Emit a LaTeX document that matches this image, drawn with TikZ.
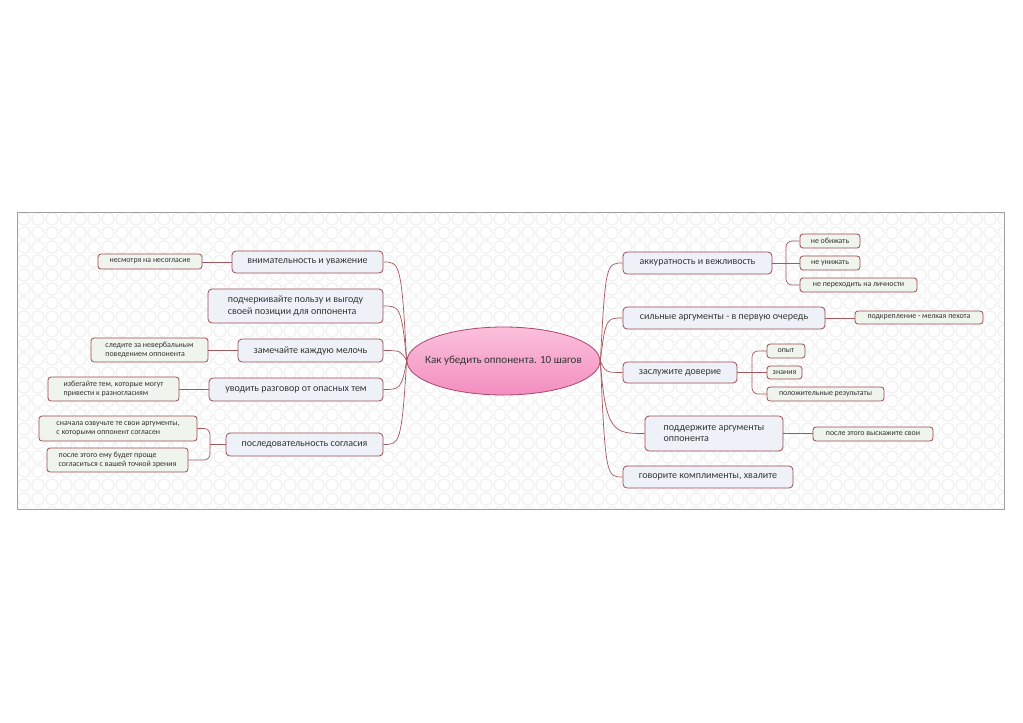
\documentclass[tikz,border=0pt]{standalone}
\usepackage{fontspec}
\setmainfont{Carlito}
\usetikzlibrary{shapes.geometric,calc}
\definecolor{bord}{HTML}{9C4A52}
\definecolor{conncol}{HTML}{A3585E}
\definecolor{mainfill}{HTML}{EEF2F8}
\definecolor{subfill}{HTML}{EFF4EC}
\definecolor{txt}{HTML}{333333}
\definecolor{pinktop}{HTML}{FBC0DC}
\definecolor{pinkbot}{HTML}{F38EBF}
\definecolor{pinkbord}{HTML}{A8486F}
\definecolor{patt}{HTML}{F2F2F2}
\definecolor{framecol}{HTML}{A0A0A0}
\tikzset{
  topic/.style={draw=bord, line width=0.8pt, fill=mainfill, rounded corners=4pt,
    inner sep=0pt, text=txt, align=left, font=\fontsize{10}{11.5}\selectfont},
  subtopic/.style={draw=bord, line width=0.8pt, fill=subfill, rounded corners=3pt,
    inner sep=0pt, text=txt, align=left, font=\fontsize{7.9}{9.3}\selectfont},
  conn/.style={draw=conncol, line width=0.7pt},
  forkline/.style={draw=conncol, line width=0.7pt, rounded corners=6pt},
  sz/.style 2 args={minimum width=#1pt, minimum height=#2pt},
}
\begin{document}
\begin{tikzpicture}[x=1pt,y=-1pt]
\useasboundingbox (0,0) rectangle (1023,723);
\fill[white] (0,0) rectangle (1023,723);
% background pattern
\begin{scope}
\clip (17,212) rectangle (1004,509);
\foreach \i in {0,...,71}{
  \foreach \j in {0,...,21}{
    \draw[patt, line width=1.3pt] (24+\i*14, 219+\j*14) circle (6);
  }
}
\end{scope}
\draw[framecol, line width=0.9pt] (17,212) rectangle (1004,509);

% central topic
\node[ellipse, draw=pinkbord, line width=0.8pt, top color=pinktop, bottom color=pinkbot,
  minimum width=193pt, minimum height=68pt, inner sep=0pt] (E) at (503.5,361) {};
\node[text=txt, inner sep=0pt, font=\fontsize{11}{13}\selectfont] (Et) at (E.center) {Как убедить оппонента. 10 шагов};

% left main topics
\node[topic, sz={151}{22}] (L1) at (307.5,262) {внимательность и уважение};
\node[topic, sz={175}{34}] (L2) at (295.5,306) {подчеркивайте пользу и выгоду\\своей позиции для оппонента};
\node[topic, sz={145}{23}] (L3) at (310.5,350.5) {замечайте каждую мелочь};
\node[topic, sz={174}{23}] (L4) at (296,389.5) {уводить разговор от опасных тем};
\node[topic, sz={157}{23}] (L5) at (304.5,444.5) {последовательность согласия};

% left subtopics
\node[subtopic, sz={104}{15}] (L1a) at (150,261.5) {несмотря на несогласие};
\node[subtopic, sz={117}{24}] (L3a) at (149.5,350) {следите за невербальным\\поведением оппонента};
\node[subtopic, sz={131}{24}] (L4a) at (113.5,389) {избегайте тем, которые могут\\привести к разногласиям};
\node[subtopic, sz={158}{25}] (L5a) at (118,428.5) {сначала озвучьте те свои аргументы,\\с которыми оппонент согласен};
\node[subtopic, sz={141}{24}] (L5b) at (117.5,460) {после этого ему будет проще\\согласиться с вашей точкой зрения};

% right main topics
\node[topic, sz={149}{22}] (R1) at (697.5,263) {аккуратность и вежливость};
\node[topic, sz={202}{22}] (R2) at (724,318) {сильные аргументы - в первую очередь};
\node[topic, sz={114}{21}] (R3) at (680,372.5) {заслужите доверие};
\node[topic, sz={138}{35}] (R4) at (714,433.5) {поддержите аргументы\\оппонента};
\node[topic, sz={170}{22}] (R5) at (708,477) {говорите комплименты, хвалите};

% right subtopics
\node[subtopic, sz={60}{14}] (R1a) at (830,241) {не обижать};
\node[subtopic, sz={60}{14}] (R1b) at (830,263) {не унижать};
\node[subtopic, sz={117}{14}] (R1c) at (858.5,285) {не переходить на личности};
\node[subtopic, sz={128}{13}] (R2a) at (919,317.5) {подкрепление - мелкая пехота};
\node[subtopic, sz={38}{14}] (R3a) at (786,351) {опыт};
\node[subtopic, sz={35}{13}] (R3b) at (784.5,372.5) {знания};
\node[subtopic, sz={117}{14}] (R3c) at (825.5,394) {положительные результаты};
\node[subtopic, sz={120}{14}] (R4a) at (873,434) {после этого выскажите свои};

% main connectors, left
\foreach \n in {L1,L2,L3,L4,L5}{
  \draw[conn] (E.west) .. controls ($(E.west |- \n.east)+(-5,0)$) and ($(\n.east)+(16,0)$) .. (\n.east);
}
% main connectors, right
\foreach \n in {R1,R2,R3,R5}{
  \draw[conn] (E.east) .. controls ($(E.east |- \n.west)+(5,0)$) and ($(\n.west)+(-16,0)$) .. (\n.west);
}
\draw[conn] (E.east) .. controls ($(E.east |- R4.west)+(5,0)$) and ($(R4.west)+(-30,0)$) .. (R4.west);

% single-child connectors
\draw[conn] (L1.west) -- (L1a.east |- L1.west);
\draw[conn] (L3.west) -- (L3a.east |- L3.west);
\draw[conn] (L4.west) -- (L4a.east |- L4.west);
\draw[conn] (R2.east) -- (R2a.west |- R2.east);
\draw[conn] (R4.east) -- (R4a.west |- R4.east);

% forks
\coordinate (fR1) at (786,263);
\draw[conn] (R1.east) -- (R1b.west);
\draw[forkline] (fR1) |- (R1a.west);
\draw[forkline] (fR1) |- (R1c.west);

\coordinate (fR3) at (752,372.5);
\draw[conn] (R3.east) -- (R3b.west);
\draw[forkline] (fR3) |- (R3a.west);
\draw[forkline] (fR3) |- (R3c.west);

\coordinate (fL5) at (210,444.5);
\draw[conn] (L5.west) -- (fL5);
\draw[forkline] (fL5) |- (L5a.east);
\draw[forkline] (fL5) |- (L5b.east);
\end{tikzpicture}
\end{document}
